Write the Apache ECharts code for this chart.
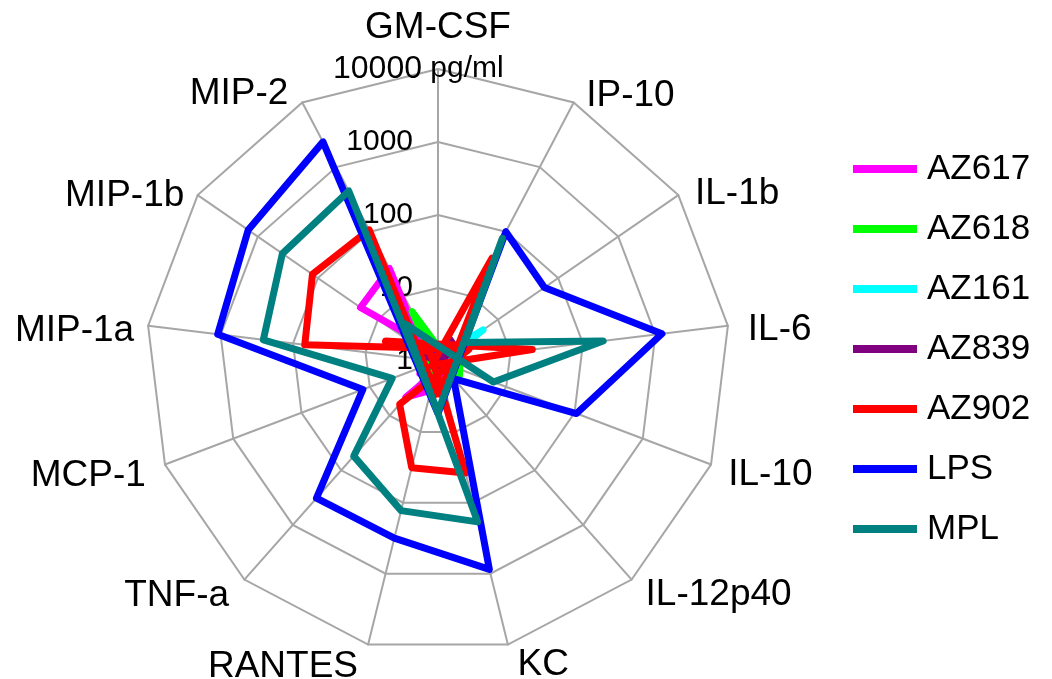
<!DOCTYPE html>
<html>
<head>
<meta charset="utf-8">
<script src="https://cdn.jsdelivr.net/npm/echarts@6/dist/echarts.min.js"></script>
<style>
  html, body { margin: 0; padding: 0; background: #ffffff; }
  #chart { width: 1052px; height: 679px; }
</style>
</head>
<body>
<div id="chart"></div>
<script>
// Cytokines, listed clockwise starting from the top spoke
const cytokines = ['GM-CSF', 'IP-10', 'IL-1b', 'IL-6', 'IL-10', 'IL-12p40', 'KC',
                   'RANTES', 'TNF-a', 'MCP-1', 'MIP-1a', 'MIP-1b', 'MIP-2'];

// Concentrations in pg/ml, same order as cytokines
const az617 = [0.45, 0.63, 0.5, 0.63, 0.5, 0.63, 1.8, 2.6, 4.6, 0.5, 0.5, 19.5, 27];
const az618 = [0.79, 0.63, 1.26, 0.79, 0.63, 0.5, 0.79, 1.26, 1.6, 0.63, 0.5, 0.44, 5.8];
const az161 = [0.63, 1.26, 5.6, 1.26, 0.63, 0.63, 0.79, 0.79, 1.26, 0.63, 0.63, 0.63, 1.6];
const az839 = [0.63, 2.2, 2.0, 1.0, 0.63, 0.63, 1.0, 1.26, 1.26, 0.79, 0.79, 0.79, 1.6];
const az902 = [0.32, 39, 0.79, 20, 0.17, 0.69, 38, 32, 6.2, 0.35, 69, 123, 107];
const lps   = [0.19, 100, 59, 1230, 107, 2.1, 871, 316, 324, 12.6, 1096, 1445, 2455];
const mpl   = [0.2, 79, 2.8, 190, 6.5, 0.21, 186, 129, 55, 4.7, 257, 389, 427];

const seriesNames = ['AZ617', 'AZ618', 'AZ161', 'AZ839', 'AZ902', 'LPS', 'MPL'];
const seriesValues = [az617, az618, az161, az839, az902, lps, mpl];
const seriesColors = ['#ff00ff', '#00ff00', '#00ffff', '#800080', '#ff0000', '#0000ff', '#008080'];

// Radial tick labels (log scale, one decade per ring)
const tickLabels = ['1', '10', '100', '1000', '10000'];
const unitLabel = 'pg/ml';

const FONT = '"Liberation Sans", Arial, Helvetica, sans-serif';
const GRID = '#a6a6a6';
const decades = tickLabels.length - 1;

// Spoke-name distance from the outer ring
const nameGapFor = { 'GM-CSF': 23, 'IP-10': 14, 'IL-1b': 13, 'IL-6': 14, 'IL-10': 12, 'IL-12p40': 12,
                     'KC': 15, 'RANTES': 17, 'TNF-a': 14, 'MCP-1': 14, 'MIP-1a': 8, 'MIP-1b': 9, 'MIP-2': 17 };

// ECharts lays spokes out counter-clockwise; reorder so they run clockwise
const order = [0].concat(cytokines.map((_, i) => i).slice(1).reverse());

const chart = echarts.init(document.getElementById('chart'), null, { renderer: 'canvas' });

chart.setOption({
  animation: false,
  backgroundColor: '#ffffff',
  legend: {
    orient: 'vertical',
    left: 848,
    top: 146,
    icon: 'rect',
    itemWidth: 64,
    itemHeight: 8,
    itemGap: 24,
    textStyle: { color: '#000', fontSize: 35, fontFamily: FONT, lineHeight: 36, padding: [0, 0, 0, 5] },
    data: seriesNames
  },
  radar: {
    center: [438, 361],
    radius: 292,
    startAngle: 90,
    shape: 'polygon',
    splitNumber: decades,
    axisNameGap: 15,
    axisName: {
      color: '#000', fontSize: 37, fontFamily: FONT,
      formatter: function (name) { return '{a|' + name + '}'; },
      rich: { a: { color: '#000', fontSize: 37, fontFamily: FONT, padding: [12, 6, 0, 6] } }
    },
    indicator: order.map((i, k) => {
      const name = cytokines[i];
      const ind = { name: name, min: 0, max: decades };
      if (nameGapFor[name] != null) ind.nameGap = nameGapFor[name];
      if (k === 0) ind.axisLabel = { show: true };
      return ind;
    }),
    axisLine: { lineStyle: { color: GRID, width: 2 } },
    splitLine: { lineStyle: { color: GRID, width: 2 } },
    splitArea: { show: false },
    axisTick: { show: false },
    axisLabel: {
      show: false,
      margin: 125,
      align: 'left',
      verticalAlign: 'middle',
      color: '#000',
      fontSize: 30,
      fontFamily: FONT,
      formatter: function (v) {
        const k = Math.round(v);
        if (k === decades) return '{t|' + tickLabels[k] + '}{u| ' + unitLabel + '}';
        return '{n|' + tickLabels[k] + '}';
      },
      rich: {
        n: { width: 100, align: 'right', fontSize: 30, fontFamily: FONT, color: '#000' },
        t: { width: 109, align: 'right', fontSize: 32, fontFamily: FONT, color: '#000' },
        u: { align: 'right', fontSize: 30, fontFamily: FONT, color: '#000' }
      }
    }
  },
  series: seriesNames.map((name, s) => ({
    type: 'radar',
    name: name,
    symbol: 'none',
    lineStyle: { color: seriesColors[s], width: 7 },
    itemStyle: { color: seriesColors[s] },
    data: [{ name: name, value: order.map(i => Math.log10(seriesValues[s][i])) }]
  }))
});
</script>
</body>
</html>
